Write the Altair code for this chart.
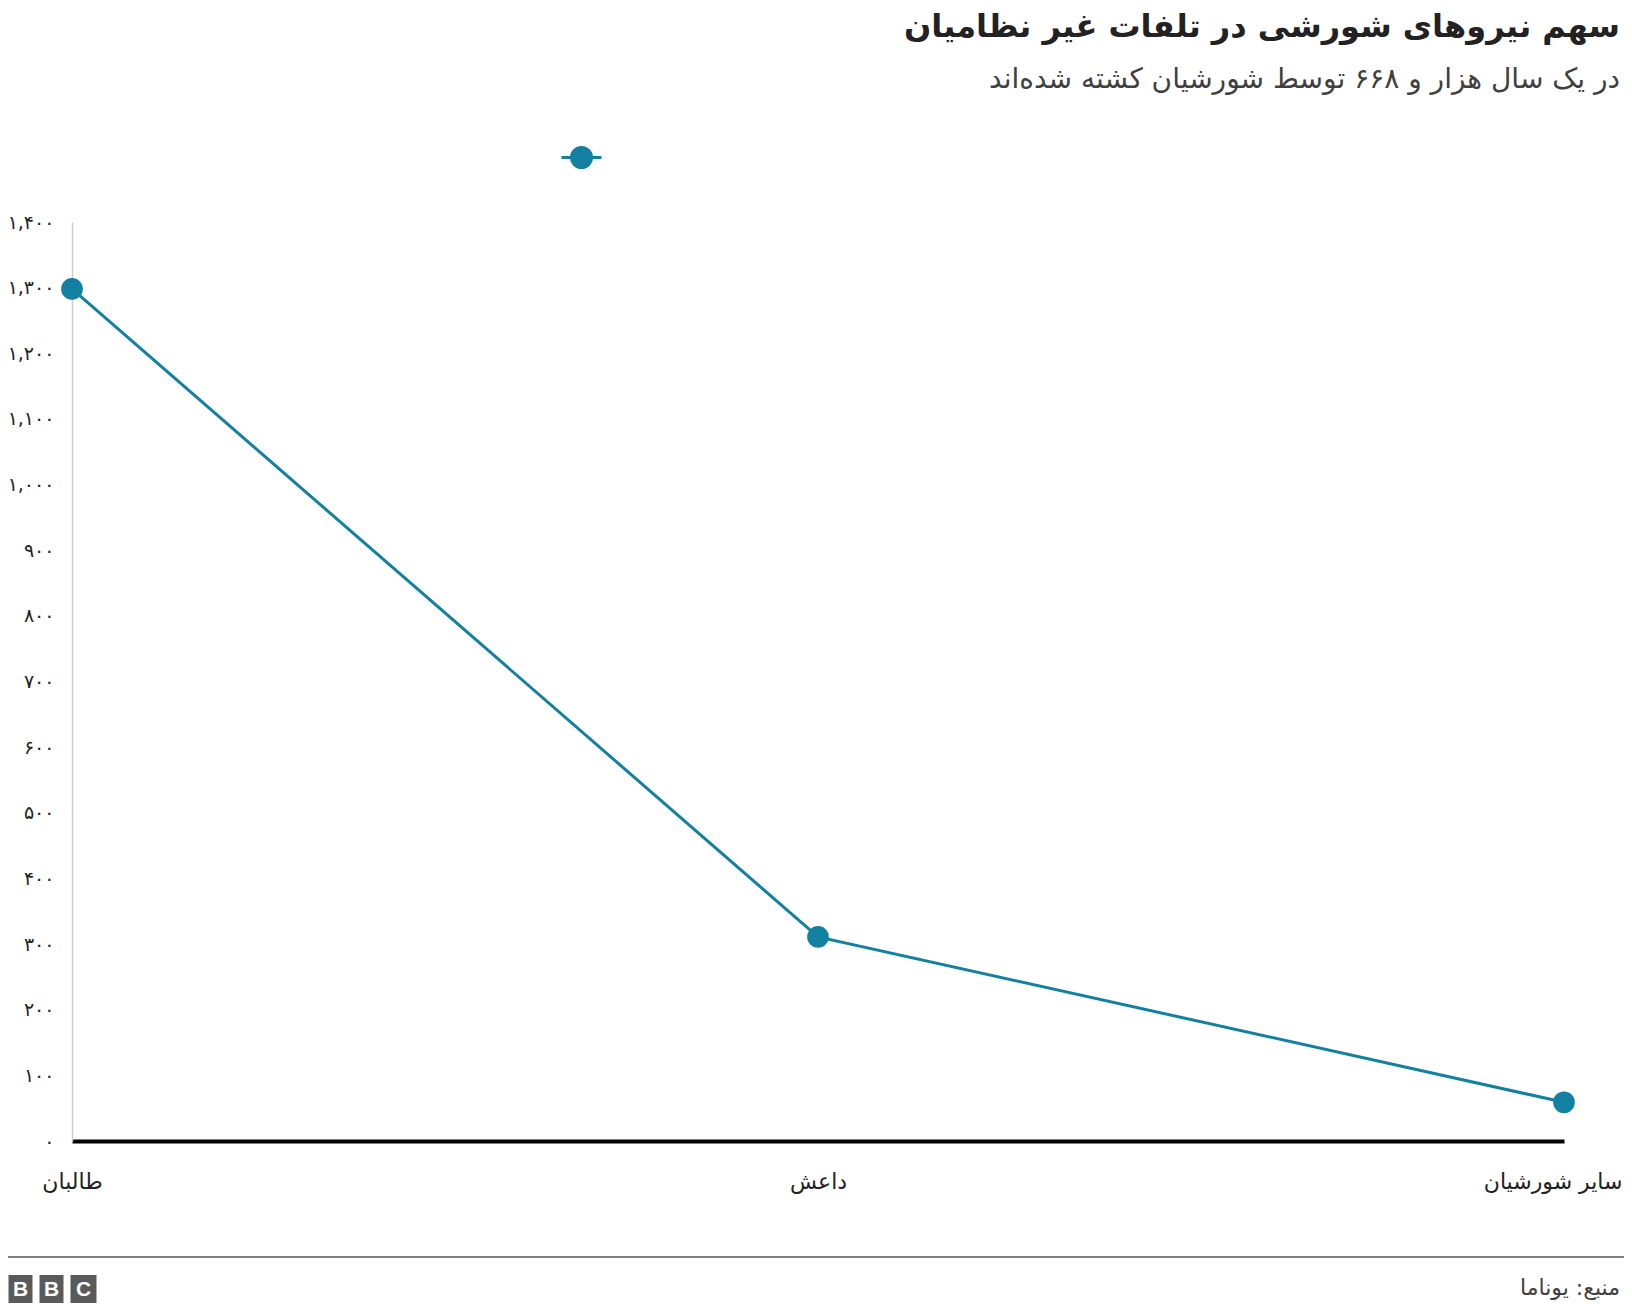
import altair as alt
import pandas as pd

# ---- data ----
categories = ["طالبان", "داعش", "سایر شورشیان"]
values = [1298, 311, 59]
series_name = " "
y_ticks = [0, 100, 200, 300, 400, 500, 600, 700, 800, 900, 1000, 1100, 1200, 1300, 1400]

title_text = "سهم نیروهای شورشی در تلفات غیر نظامیان"
subtitle_text = "در یک سال هزار و ۶۶۸ توسط شورشیان کشته شده‌اند"
source_text = "منبع: یوناما"
logo_letters = ["B", "B", "C"]

TEAL = "#1380A1"
FONT = "DejaVu Sans"
W, H = 1492, 919

df = pd.DataFrame({"cat": categories, "val": values, "series": [series_name] * len(categories)})

# Persian digits label expression
expr = "format(datum.value, ',')"
for i, d in enumerate("۰۱۲۳۴۵۶۷۸۹"):
    expr = f"replace({expr}, regexp('{i}', 'g'), '{d}')"

legend_path = "M-1,0L1,0M0.5,0A0.5,0.5,0,1,1,-0.5,0A0.5,0.5,0,1,1,0.5,0Z"

last_test = f"datum.value == '{categories[-1]}'"

line = alt.Chart(df).mark_line(
    strokeWidth=3,
    point=alt.OverlayMarkDef(filled=True, size=470, opacity=1),
).encode(
    x=alt.X("cat:N", sort=categories,
            scale=alt.Scale(type="point", padding=0),
            axis=alt.Axis(title=None, labelAngle=0, ticks=False, domainColor="#000000",
                          domainWidth=4, labelPadding=30, labelFontSize=22,
                          labelAlign={"condition": {"test": last_test, "value": "right"},
                                      "value": "center"},
                          labelOffset={"condition": {"test": last_test, "value": 58},
                                       "value": 0},
                          labelColor="#222222", labelFont=FONT, grid=False)),
    y=alt.Y("val:Q", scale=alt.Scale(domain=[0, 1400], nice=False),
            axis=alt.Axis(title=None, values=y_ticks, labelExpr=expr, ticks=False,
                          domainColor="#cccccc", domainWidth=1.5, grid=False,
                          labelPadding=18, labelFontSize=19, labelColor="#222222",
                          labelFont=FONT)),
    color=alt.Color("series:N", scale=alt.Scale(domain=[series_name], range=[TEAL]),
                    legend=alt.Legend(orient="none", legendX=488, legendY=-86, title=None,
                                      symbolType=legend_path, symbolSize=1600,
                                      symbolStrokeWidth=3, symbolFillColor=TEAL,
                                      symbolStrokeColor=TEAL, padding=0,
                                      labelFontSize=12, labelFont=FONT)),
)

# title and subtitle
title = alt.Chart(pd.DataFrame({"t": [title_text]})).mark_text(
    align="right", baseline="alphabetic", fontSize=32, fontWeight="bold", font=FONT,
    color="#222222"
).encode(text="t:N", x=alt.value(W + 56), y=alt.value(-185))

subtitle = alt.Chart(pd.DataFrame({"t": [subtitle_text]})).mark_text(
    align="right", baseline="alphabetic", fontSize=28, font=FONT, color="#404040"
).encode(text="t:N", x=alt.value(W + 56), y=alt.value(-134))

# footer rule
footer_rule = alt.Chart(pd.DataFrame({"a": [0]})).mark_rule(color="#808080", strokeWidth=2).encode(
    x=alt.value(-64), x2=alt.value(W + 60), y=alt.value(1035)
)

# source text
source = alt.Chart(pd.DataFrame({"t": [source_text]})).mark_text(
    align="right", baseline="middle", fontSize=22, font=FONT, color="#404040"
).encode(text="t:N", x=alt.value(W + 56), y=alt.value(1066))

# BBC logo
logo_layers = []
box_x = [(-63.5, -39.5), (-32.5, -8.5), (-1.5, 24.5)]
for (x0, x1), letter in zip(box_x, logo_letters):
    box = alt.Chart(pd.DataFrame({"l": [letter]})).mark_rect(color="#5a5a5a").encode(
        x=alt.value(x0), x2=alt.value(x1), y=alt.value(1053), y2=alt.value(1081)
    )
    txt = alt.Chart(pd.DataFrame({"l": [letter]})).mark_text(
        align="center", baseline="middle", fontSize=21, fontWeight="bold",
        font="Liberation Sans", color="white"
    ).encode(text="l:N", x=alt.value((x0 + x1) / 2), y=alt.value(1068))
    logo_layers += [box, txt]

chart = alt.layer(line, title, subtitle, footer_rule, source, *logo_layers).properties(
    width=W, height=H,
    background="white",
    autosize=alt.AutoSizeParams(type="none"),
    padding={"left": 64, "top": 214, "right": 60, "bottom": 165},
).configure_view(strokeWidth=0, stroke="transparent")

chart.save("out.html", embed_options={"renderer": "svg", "actions": False})
